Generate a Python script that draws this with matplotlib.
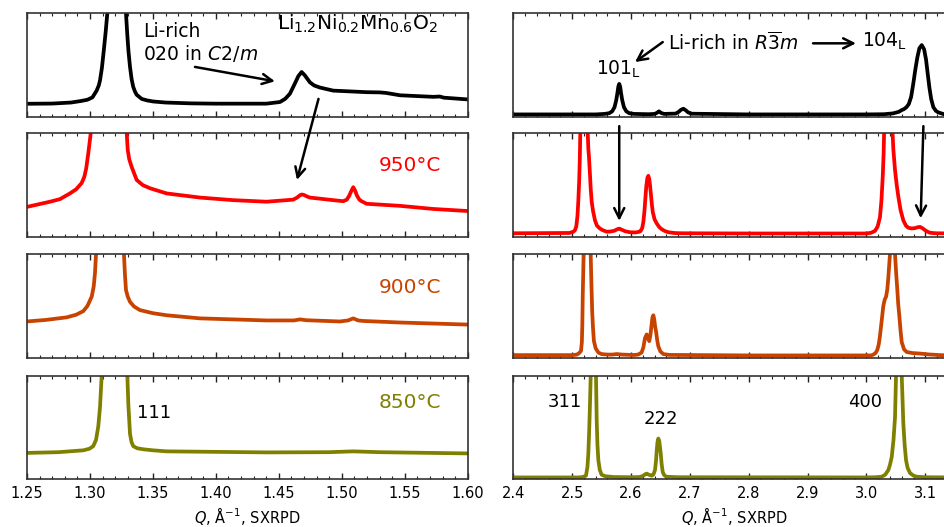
import matplotlib
matplotlib.use("Agg")
import matplotlib.pyplot as plt
from matplotlib.ticker import MultipleLocator

# ---- digitised patterns (intensity scaled so each panel spans 0..1) ----
# low-Q window, 1.25 - 1.60 1/A
q_ref_low = [1.250, 1.270, 1.285, 1.293, 1.298, 1.302, 1.3053, 1.307, 1.308, 1.3095,
             1.311, 1.3125, 1.3138, 1.321, 1.3286, 1.3296, 1.3306, 1.3318, 1.3331, 1.3344,
             1.3358, 1.3371, 1.3411, 1.3455, 1.3503, 1.360, 1.380, 1.400, 1.440, 1.4509,
             1.455, 1.4588, 1.4628, 1.4655, 1.4681, 1.4705, 1.4747, 1.478, 1.4826, 1.4932,
             1.5197, 1.530, 1.535, 1.5462, 1.5726, 1.5779, 1.581, 1.600]
i_ref_low = [0.123, 0.125, 0.135, 0.15, 0.162, 0.185, 0.25, 0.30, 0.35, 0.47,
             0.64, 0.82, 1.0, 4.0, 1.0, 0.80, 0.63, 0.48, 0.36, 0.285,
             0.24, 0.21, 0.17, 0.155, 0.145, 0.135, 0.127, 0.124, 0.124, 0.14,
             0.17, 0.22, 0.32, 0.39, 0.43, 0.40, 0.33, 0.30, 0.28, 0.25,
             0.235, 0.233, 0.228, 0.205, 0.19, 0.193, 0.182, 0.165]

q_950_low = [1.250, 1.2683, 1.2762, 1.2841, 1.289, 1.2934, 1.2955, 1.297, 1.2987, 1.3006,
             1.315, 1.3292, 1.3300, 1.3312, 1.3331, 1.3371, 1.3420, 1.3477, 1.3609, 1.3874,
             1.4138, 1.4403, 1.4614, 1.4645, 1.4665, 1.4681, 1.470, 1.4725, 1.4747, 1.4932,
             1.5011, 1.504, 1.506, 1.5078, 1.5091, 1.5105, 1.512, 1.514, 1.5157, 1.5197,
             1.5462, 1.5726, 1.600]
i_950_low = [0.29, 0.34, 0.365, 0.42, 0.46, 0.52, 0.58, 0.66, 0.81, 1.0,
             4.0, 1.0, 0.84, 0.75, 0.677, 0.55, 0.50, 0.47, 0.42, 0.38,
             0.355, 0.34, 0.36, 0.38, 0.40, 0.41, 0.405, 0.39, 0.38, 0.355,
             0.345, 0.36, 0.40, 0.45, 0.48, 0.45, 0.40, 0.36, 0.345, 0.32,
             0.30, 0.27, 0.25]

q_900_low = [1.250, 1.265, 1.2815, 1.289, 1.2947, 1.298, 1.3014, 1.303, 1.304, 1.3048,
             1.316, 1.327, 1.3278, 1.3286, 1.330, 1.3318, 1.335, 1.3397, 1.350, 1.3609,
             1.3874, 1.4403, 1.462, 1.4668, 1.472, 1.4985, 1.505, 1.5091, 1.513, 1.517,
             1.5462, 1.600]
i_900_low = [0.35, 0.365, 0.39, 0.415, 0.45, 0.50, 0.59, 0.69, 0.82, 1.0,
             4.0, 1.0, 0.80, 0.655, 0.59, 0.54, 0.495, 0.46, 0.43, 0.41,
             0.38, 0.36, 0.36, 0.37, 0.362, 0.35, 0.36, 0.38, 0.36, 0.355,
             0.34, 0.32]

q_850_low = [1.250, 1.275, 1.2947, 1.2995, 1.3026, 1.3048, 1.3066, 1.308, 1.3093, 1.3195,
             1.3297, 1.3305, 1.3318, 1.333, 1.3344, 1.3375, 1.3423, 1.350, 1.3609, 1.4403,
             1.490, 1.5091, 1.530, 1.600]
i_850_low = [0.255, 0.262, 0.28, 0.295, 0.32, 0.38, 0.51, 0.70, 1.0, 5.0,
             1.0, 0.72, 0.44, 0.36, 0.32, 0.30, 0.29, 0.28, 0.27, 0.26,
             0.262, 0.27, 0.262, 0.25]

# high-Q window, 2.40 - 3.15 1/A
q_ref_high = [2.400, 2.540, 2.555, 2.563, 2.568, 2.572, 2.575, 2.577, 2.5785, 2.580,
              2.5815, 2.583, 2.585, 2.588, 2.592, 2.597, 2.605, 2.630, 2.640, 2.644,
              2.6475, 2.651, 2.656, 2.676, 2.681, 2.685, 2.689, 2.693, 2.697, 2.703,
              2.800, 3.000, 3.030, 3.045, 3.055, 3.060, 3.064, 3.068, 3.072, 3.076,
              3.0797, 3.083, 3.0865, 3.090, 3.094, 3.098, 3.1013, 3.104, 3.107, 3.110,
              3.1137, 3.118, 3.122, 3.1317, 3.150]
i_ref_high = [0.02, 0.02, 0.025, 0.032, 0.05, 0.09, 0.16, 0.23, 0.29, 0.315,
              0.29, 0.23, 0.16, 0.09, 0.05, 0.032, 0.025, 0.022, 0.025, 0.035,
              0.05, 0.035, 0.025, 0.028, 0.045, 0.065, 0.075, 0.06, 0.04, 0.027,
              0.02, 0.02, 0.022, 0.03, 0.045, 0.062, 0.072, 0.09, 0.12, 0.19,
              0.32, 0.45, 0.57, 0.66, 0.69, 0.65, 0.55, 0.42, 0.28, 0.17,
              0.09, 0.055, 0.04, 0.022, 0.018]

q_950_high = [2.400, 2.495, 2.502, 2.5048, 2.507, 2.509, 2.5105, 2.512, 2.513, 2.5138,
              2.520, 2.5265, 2.5275, 2.5285, 2.5303, 2.5315, 2.5332, 2.5355, 2.5388, 2.542,
              2.5473, 2.552, 2.5587, 2.565, 2.572, 2.577, 2.580, 2.584, 2.590, 2.598,
              2.607, 2.613, 2.616, 2.619, 2.621, 2.623, 2.6245, 2.626, 2.6278, 2.6294,
              2.631, 2.6325, 2.634, 2.6355, 2.637, 2.640, 2.6437, 2.648, 2.652, 2.657,
              2.6634, 2.675, 2.688, 2.800, 3.000, 3.008, 3.0146, 3.019, 3.023, 3.0255,
              3.0277, 3.0292, 3.030, 3.037, 3.0445, 3.0457, 3.0486, 3.0515, 3.0542, 3.058,
              3.0627, 3.067, 3.0712, 3.077, 3.0826, 3.087, 3.091, 3.095, 3.0996, 3.104,
              3.108, 3.118, 3.150]
i_950_high = [0.035, 0.038, 0.05, 0.065, 0.10, 0.20, 0.35, 0.55, 0.75, 1.0,
              3.5, 1.0, 0.85, 0.78, 0.60, 0.47, 0.34, 0.25, 0.16, 0.11,
              0.08, 0.065, 0.05, 0.052, 0.06, 0.075, 0.08, 0.07, 0.055, 0.045,
              0.043, 0.048, 0.055, 0.085, 0.145, 0.26, 0.38, 0.49, 0.57, 0.59,
              0.56, 0.49, 0.40, 0.31, 0.24, 0.17, 0.13, 0.095, 0.075, 0.058,
              0.045, 0.037, 0.035, 0.033, 0.033, 0.04, 0.058, 0.10, 0.19, 0.35,
              0.58, 0.80, 1.0, 3.5, 1.0, 0.85, 0.645, 0.50, 0.39, 0.26,
              0.16, 0.11, 0.088, 0.082, 0.085, 0.093, 0.097, 0.085, 0.065, 0.05,
              0.04, 0.035, 0.033]

q_900_high = [2.400, 2.500, 2.508, 2.512, 2.515, 2.5165, 2.5173, 2.518, 2.5195, 2.525,
              2.5315, 2.5328, 2.534, 2.5355, 2.537, 2.540, 2.5445, 2.550, 2.560, 2.568,
              2.5757, 2.585, 2.605, 2.612, 2.618, 2.621, 2.6238, 2.6267, 2.629, 2.631,
              2.633, 2.635, 2.6365, 2.638, 2.6395, 2.641, 2.6425, 2.6445, 2.6464, 2.650,
              2.655, 2.665, 2.800, 3.000, 3.008, 3.0117, 3.0155, 3.0185, 3.021, 3.023,
              3.026, 3.0287, 3.031, 3.0334, 3.0355, 3.0373, 3.040, 3.044, 3.0486, 3.0505,
              3.0525, 3.054, 3.056, 3.058, 3.060, 3.064, 3.0685, 3.078, 3.091, 3.105,
              3.125, 3.150]
i_900_high = [0.025, 0.025, 0.03, 0.045, 0.065, 0.15, 0.32, 0.60, 1.0, 3.5,
              1.0, 0.70, 0.45, 0.28, 0.16, 0.09, 0.05, 0.035, 0.03, 0.03,
              0.035, 0.03, 0.026, 0.03, 0.05, 0.10, 0.19, 0.225, 0.19, 0.16,
              0.22, 0.32, 0.39, 0.41, 0.37, 0.30, 0.255, 0.17, 0.11, 0.06,
              0.035, 0.027, 0.022, 0.022, 0.022, 0.03, 0.045, 0.075, 0.13, 0.21,
              0.36, 0.50, 0.56, 0.59, 0.66, 0.78, 1.0, 3.5, 1.0, 0.82,
              0.655, 0.52, 0.40, 0.26, 0.15, 0.08, 0.055, 0.045, 0.04, 0.032,
              0.025, 0.022]

q_850_high = [2.400, 2.510, 2.518, 2.5235, 2.526, 2.5275, 2.529, 2.5303, 2.5315, 2.536,
              2.5405, 2.5417, 2.543, 2.5445, 2.547, 2.550, 2.556, 2.570, 2.600, 2.615,
              2.621, 2.6245, 2.6267, 2.630, 2.635, 2.638, 2.6408, 2.6425, 2.6437, 2.645,
              2.6464, 2.648, 2.6495, 2.6505, 2.652, 2.6539, 2.6565, 2.660, 2.680, 3.000,
              3.015, 3.026, 3.032, 3.0373, 3.040, 3.043, 3.046, 3.0486, 3.0503, 3.0555,
              3.060, 3.0615, 3.0627, 3.065, 3.0673, 3.070, 3.0741, 3.080, 3.0855, 3.100,
              3.150]
i_850_high = [0.018, 0.018, 0.022, 0.035, 0.12, 0.25, 0.48, 0.73, 1.0, 4.0,
              1.0, 0.57, 0.33, 0.185, 0.09, 0.045, 0.03, 0.022, 0.02, 0.022,
              0.035, 0.05, 0.055, 0.045, 0.035, 0.045, 0.09, 0.18, 0.28, 0.36,
              0.394, 0.37, 0.30, 0.25, 0.15, 0.07, 0.04, 0.025, 0.02, 0.018,
              0.02, 0.025, 0.045, 0.09, 0.14, 0.215, 0.38, 0.60, 1.0, 4.5,
              1.0, 0.75, 0.54, 0.33, 0.185, 0.11, 0.06, 0.035, 0.025, 0.02,
              0.018]

temps = [None, "950°C", "900°C", "850°C"]
colors = ["black", "#ff0000", "#c84300", "#808000"]

low_q = [q_ref_low, q_950_low, q_900_low, q_850_low]
low_i = [i_ref_low, i_950_low, i_900_low, i_850_low]
high_q = [q_ref_high, q_950_high, q_900_high, q_850_high]
high_i = [i_ref_high, i_950_high, i_900_high, i_850_high]

# ---- layout (pixels of the 944x527 canvas) ----
W, H = 944, 527
row_tops = [13.0, 133.4, 254.2, 375.8]
row_h = 103.5
cols = [(27.0, 440.7, (1.25, 1.60), 0.05, 0.01, "%.2f"),
        (513.3, 441.4, (2.40, 3.15), 0.1, 0.02, "%.1f")]

fig = plt.figure(figsize=(W / 100, H / 100), dpi=100)
axes = [[None] * 4 for _ in range(2)]

for c, (x0, w, xlim, major, minor, fmt) in enumerate(cols):
    for r, top in enumerate(row_tops):
        ax = fig.add_axes([x0 / W, 1 - (top + row_h) / H, w / W, row_h / H])
        qs = low_q[r] if c == 0 else high_q[r]
        ys = low_i[r] if c == 0 else high_i[r]
        ax.plot(qs, ys, color=colors[r], lw=2.7, solid_joinstyle="round")
        ax.set_xlim(*xlim)
        ax.set_ylim(0, 1)
        ax.set_yticks([])
        ax.xaxis.set_major_locator(MultipleLocator(major))
        ax.xaxis.set_minor_locator(MultipleLocator(minor))
        ax.xaxis.set_major_formatter(plt.FormatStrFormatter(fmt))
        ax.tick_params(axis="x", which="both", direction="in", top=True, bottom=True,
                       color="#222222", labelsize=10.5, pad=4.5)
        ax.tick_params(axis="x", which="major", length=4, width=1.0)
        ax.tick_params(axis="x", which="minor", length=2.2, width=0.8)
        for s in ax.spines.values():
            s.set_linewidth(1.2)
            s.set_color("#333333")
        if r < 3:
            ax.tick_params(axis="x", which="both", labelbottom=False)
        else:
            ax.set_xlabel("$Q$, Å$^{-1}$, SXRPD", fontsize=10.5, labelpad=3)
        axes[c][r] = ax

arrow = dict(arrowstyle="->", lw=1.8, color="black", mutation_scale=18,
             shrinkA=0, shrinkB=0)

# temperature labels
temp_pos = [None, 0.69, 0.677, 0.742]
for r in range(1, 4):
    axes[0][r].text(1.5541, temp_pos[r], temps[r], color=colors[r], fontsize=14.5,
                    ha="center", va="center")

# low-Q annotations
a0 = axes[0][0]
a0.text(1.3421, 0.77, "Li-rich", fontsize=13.5, ha="left", va="baseline")
a0.text(1.3421, 0.544, "020 in $C2/m$", fontsize=13.5, ha="left", va="baseline")
a0.text(1.4485, 0.835, "Li$_{1.2}$Ni$_{0.2}$Mn$_{0.6}$O$_{2}$", fontsize=14.5,
        ha="left", va="baseline")
a0.annotate("", xy=(1.4469, 0.34), xytext=(1.3834, 0.479), arrowprops=arrow)
axes[0][1].annotate("", xy=(1.4644, 0.55), xytext=(1.4815, 0.17),
                    textcoords=a0.transData, arrowprops=arrow)
axes[0][3].text(1.3373, 0.637, "111", fontsize=13, ha="left", va="center")

# high-Q annotations
b0 = axes[1][0]
b0.text(2.579, 0.407, "101$_\\mathregular{L}$", fontsize=13.5, ha="center", va="baseline")
b0.text(2.9924, 0.678, "104$_\\mathregular{L}$", fontsize=13.5, ha="left", va="baseline")
b0.text(2.6627, 0.646, "Li-rich in $R\\overline{3}m$", fontsize=13.5, ha="left",
        va="baseline")
b0.annotate("", xy=(2.6068, 0.526), xytext=(2.6539, 0.719), arrowprops=arrow)
b0.annotate("", xy=(2.9822, 0.707), xytext=(2.9093, 0.707), arrowprops=arrow)
b1 = axes[1][1]
b1.annotate("", xy=(2.580, 0.155), xytext=(2.580, 1.07), arrowprops=arrow,
            annotation_clip=False)
b1.annotate("", xy=(3.0922, 0.18), xytext=(3.0968, 1.07), arrowprops=arrow,
            annotation_clip=False)
b3 = axes[1][3]
b3.text(2.5167, 0.749, "311", fontsize=13, ha="right", va="center")
b3.text(2.650, 0.579, "222", fontsize=13, ha="center", va="center")
b3.text(2.9985, 0.743, "400", fontsize=13, ha="center", va="center")

fig.savefig("out.png", dpi=100)
